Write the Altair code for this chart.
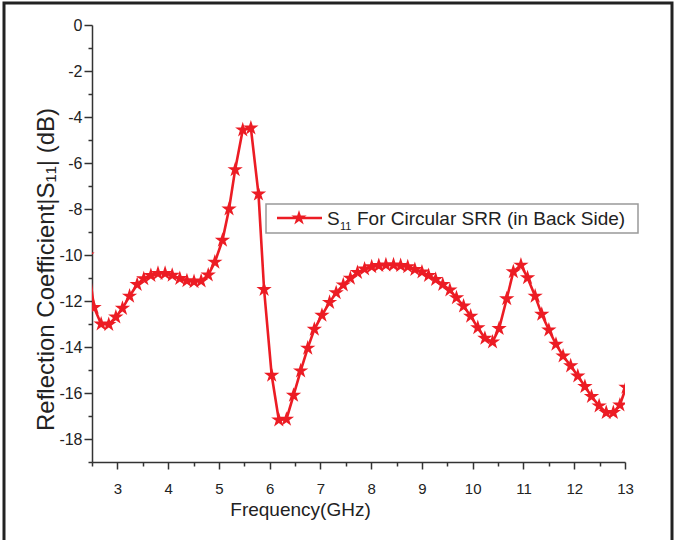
import altair as alt
import pandas as pd

freq = [2.40, 2.54, 2.68, 2.83, 2.97, 3.10, 3.24, 3.39, 3.52, 3.66, 3.80, 3.94,
        4.08, 4.23, 4.37, 4.51, 4.65, 4.79, 4.92, 5.07, 5.20, 5.32, 5.47, 5.63,
        5.78, 5.89, 6.04, 6.18, 6.33, 6.47, 6.61, 6.75, 6.88, 7.03, 7.18, 7.31,
        7.45, 7.59, 7.73, 7.87, 8.01, 8.15, 8.29, 8.44, 8.58, 8.72, 8.86, 9.00,
        9.13, 9.27, 9.41, 9.55, 9.68, 9.82, 9.96, 10.10, 10.24, 10.39, 10.52,
        10.67, 10.80, 10.95, 11.08, 11.23, 11.36, 11.50, 11.64, 11.78, 11.93,
        12.07, 12.21, 12.34, 12.49, 12.63, 12.77, 12.90, 13.02]
s11 = [-10.0, -12.28, -13.0, -13.02, -12.7, -12.32, -11.79, -11.28, -11.03, -10.89,
       -10.8, -10.8, -10.88, -11.02, -11.12, -11.16, -11.13, -10.87, -10.31, -9.36,
       -8.0, -6.29, -4.56, -4.48, -7.35, -11.5, -15.23, -17.17, -17.14, -16.1,
       -15.04, -14.05, -13.23, -12.62, -12.06, -11.64, -11.3, -11.01, -10.76,
       -10.61, -10.51, -10.46, -10.43, -10.43, -10.46, -10.51, -10.63, -10.74,
       -10.89, -11.06, -11.28, -11.52, -11.86, -12.22, -12.66, -13.16, -13.62,
       -13.78, -13.2, -11.9, -10.73, -10.44, -10.99, -11.79, -12.58, -13.26,
       -13.88, -14.39, -14.82, -15.26, -15.72, -16.15, -16.56, -16.85, -16.85,
       -16.52, -15.75]

x_major = [3, 4, 5, 6, 7, 8, 9, 10, 11, 12, 13]
x_minor = [2.5, 3.5, 4.5, 5.5, 6.5, 7.5, 8.5, 9.5, 10.5, 11.5, 12.5]
y_major = [0, -2, -4, -6, -8, -10, -12, -14, -16, -18]
y_minor = [-1, -3, -5, -7, -9, -11, -13, -15, -17, -19]

RED = "#ec1c24"
FONT = "Liberation Sans"
STAR = ("M0,-1L0.2245,-0.309L0.951,-0.309L0.3633,0.118L0.5878,0.809L0,0.382"
        "L-0.5878,0.809L-0.3633,0.118L-0.951,-0.309L-0.2245,-0.309Z")

df = pd.DataFrame({"f": freq, "s": s11})
one = pd.DataFrame({"a": [0]})

xs = alt.Scale(domain=[2.5, 13], nice=False, zero=False)
ys = alt.Scale(domain=[-19, 0], nice=False, zero=False)
common = dict(grid=False, domainColor="#333", tickColor="#333", domainWidth=1.5,
              tickWidth=1.5, labelFont=FONT, labelColor="#222", labelFlush=False)

x_enc = alt.X("f:Q", scale=xs,
              axis=alt.Axis(values=x_major, orient="bottom", title="Frequency(GHz)",
                            labelExpr="'' + datum.value", tickSize=7,
                            labelFontSize=15, labelBaseline="alphabetic", labelPadding=24,
                            titleFontSize=19, titleFont=FONT, titleFontWeight="normal",
                            titleColor="#222", titleX=208, titleY=53,
                            titleBaseline="alphabetic", **common))
y_enc = alt.Y("s:Q", scale=ys,
              axis=alt.Axis(values=y_major, orient="left",
                            title="Reflection Coefficient|S\u2081\u2081| (dB)",
                            labelExpr="'' + datum.value", tickSize=8,
                            labelFontSize=16, labelPadding=2,
                            titleFontSize=24, titleFont=FONT, titleFontWeight="normal",
                            titleColor="#222", titleX=-46, titleY=244,
                            titleBaseline="middle", **common))
x_min = alt.X("f:Q", scale=xs,
              axis=alt.Axis(values=x_minor, orient="bottom", title=None, labels=False,
                            domain=False, tickSize=4, tickColor="#333", tickWidth=1.5, grid=False))
y_min = alt.Y("s:Q", scale=ys,
              axis=alt.Axis(values=y_minor, orient="left", title=None, labels=False,
                            domain=False, tickSize=4, tickColor="#333", tickWidth=1.5, grid=False))

base = alt.Chart(df)
line = base.mark_line(color=RED, strokeWidth=2.6, clip=True).encode(x=x_enc, y=y_enc)
pts = base.mark_point(shape=STAR, filled=True, color=RED, size=260, opacity=1,
                      clip=True).encode(x=x_min, y=y_min)

frame = alt.Chart(one).mark_rect(fillOpacity=0, stroke="#222", strokeWidth=3).encode(
    x=alt.value(-88), x2=alt.value(580), y=alt.value(-22), y2=alt.value(560))

leg_box = alt.Chart(one).mark_rect(fill="white", stroke="#999", strokeWidth=1.5).encode(
    x=alt.value(174), x2=alt.value(546), y=alt.value(179), y2=alt.value(208))
leg_line = alt.Chart(one).mark_rule(color=RED, strokeWidth=2.6).encode(
    x=alt.value(185), x2=alt.value(230), y=alt.value(193))
leg_star = alt.Chart(one).mark_point(shape=STAR, filled=True, color=RED, size=260,
                                     opacity=1).encode(x=alt.value(207), y=alt.value(193))
leg_s = alt.Chart(one).mark_text(text="S", font=FONT, fontSize=19, color="#222",
                                 align="left", baseline="alphabetic").encode(
    x=alt.value(235), y=alt.value(200))
leg_sub = alt.Chart(one).mark_text(text="11", font=FONT, fontSize=11, color="#222",
                                   align="left", baseline="alphabetic").encode(
    x=alt.value(248), y=alt.value(205))
leg_txt = alt.Chart(one).mark_text(text="For Circular SRR (in Back Side)", font=FONT,
                                   fontSize=19, color="#222", align="left",
                                   baseline="alphabetic").encode(
    x=alt.value(265), y=alt.value(200))

chart = alt.layer(frame, line, pts, leg_box, leg_line, leg_star, leg_s, leg_sub, leg_txt).resolve_axis(
    x="independent", y="independent"
).properties(
    width=533, height=437,
    padding={"left": 92, "top": 25, "right": 56, "bottom": 78},
    autosize=alt.AutoSizeParams(type="none"),
    background="white",
).configure_view(stroke=None)

chart.save("out.html", embed_options={"renderer": "svg", "actions": False})
